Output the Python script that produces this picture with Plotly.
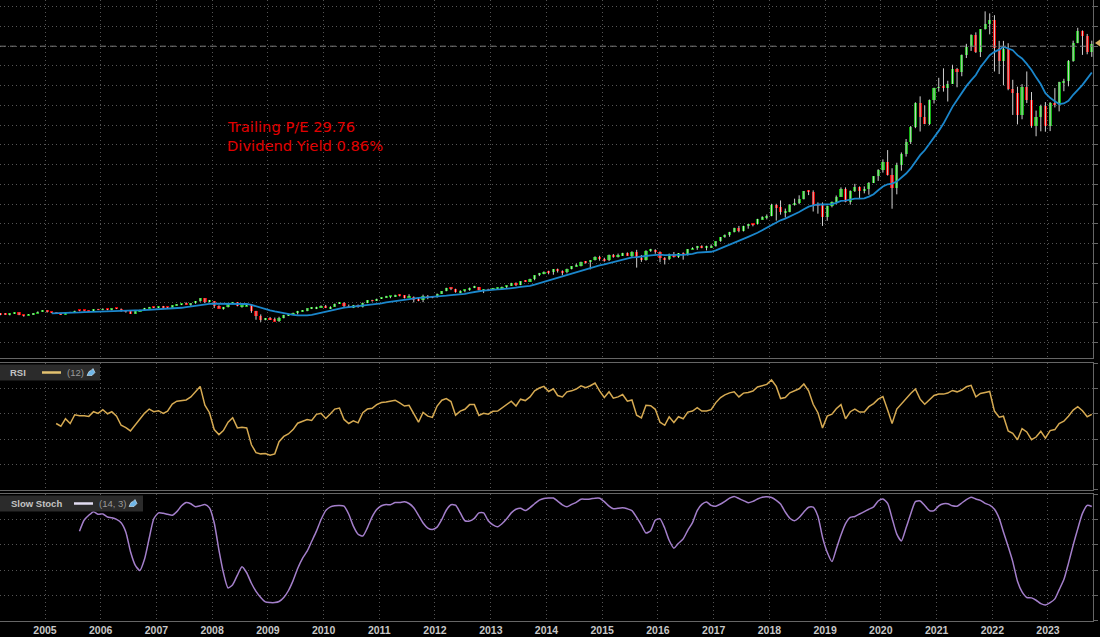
import pandas as pd
import plotly.graph_objects as go

# ---------------- DATA (monthly, Nasdaq-100 style chart) ----------------
# Candles: Mar 2004 .. Oct 2023 (Oct 2023 partial)
candle_start = "2004-03"
opens = [
    1468, 1438, 1401, 1466, 1517, 1382, 1380, 1407, 1485, 1567,
    1621, 1520, 1501, 1483, 1431, 1531, 1494, 1605, 1604, 1602, 1579, 1670,
    1645, 1680, 1664, 1704, 1702, 1579, 1575, 1488, 1569, 1654, 1738, 1789,
    1757, 1789, 1776, 1772, 1872, 1930, 1934, 1932, 1984, 2091, 2239, 2058,
    2085, 1841, 1741, 1782, 1951, 2032, 1837, 1845, 1874, 1569, 1330, 1145,
    1212, 1175, 1082, 1237, 1385, 1431, 1477, 1589, 1616, 1720, 1721, 1794,
    1860, 1741, 1817, 1957, 2014, 1857, 1764, 1883, 1774, 2013, 2133, 2100,
    2217, 2262, 2320, 2338, 2410, 2383, 2283, 2305, 2149, 2139, 2369, 2285,
    2278, 2468, 2592, 2755, 2718, 2540, 2616, 2632, 2772, 2800, 2660, 2677,
    2660, 2732, 2739, 2819, 2864, 2986, 2910, 3094, 3074, 3219, 3396, 3513,
    3592, 3545, 3717, 3596, 3564, 3737, 3850, 3888, 4083, 4050, 4159, 4345,
    4236, 4151, 4443, 4334, 4415, 4509, 4397, 4589, 4275, 4181, 4649, 4665,
    4594, 4280, 4201, 4484, 4341, 4524, 4418, 4731, 4771, 4876, 4801, 4810,
    4864, 5118, 5331, 5436, 5584, 5788, 5647, 5881, 5988, 5980, 6249, 6334,
    6397, 6950, 6855, 6581, 6606, 6968, 7040, 7272, 7660, 7628, 6967, 6949,
    6330, 6907, 7097, 7378, 7781, 7128, 7671, 7848, 7692, 7750, 8083, 8403,
    8733, 9151, 8462, 7813, 9000, 9555, 10157, 10905, 12111, 11418, 11052, 12268,
    12888, 12925, 12909, 13091, 13861, 13687, 14554, 14960, 15583, 14690, 15851, 16135,
    16320, 14931, 14237, 14839, 12855, 12643, 11504, 12947, 12272, 10971, 11406, 11951,
    10940, 12102, 12042, 13182, 13246, 14254, 15180, 15758, 15501, 14715,
]
highs = [
    1480, 1490, 1475, 1520, 1520, 1400, 1430, 1490, 1575, 1630,
    1625, 1550, 1530, 1500, 1540, 1550, 1610, 1625, 1625, 1610, 1680, 1700,
    1730, 1700, 1720, 1740, 1720, 1600, 1580, 1580, 1660, 1750, 1800, 1810,
    1820, 1850, 1800, 1880, 1940, 1960, 2030, 1990, 2100, 2240, 2240, 2150,
    2090, 1880, 1800, 1960, 2050, 2040, 1880, 1960, 1900, 1600, 1420, 1240,
    1290, 1260, 1300, 1400, 1450, 1510, 1600, 1640, 1730, 1790, 1810, 1880,
    1900, 1830, 1970, 2040, 2040, 1920, 1900, 1920, 2020, 2140, 2160, 2220,
    2280, 2360, 2340, 2420, 2430, 2390, 2440, 2330, 2290, 2420, 2400, 2350,
    2480, 2600, 2770, 2790, 2720, 2640, 2680, 2780, 2870, 2810, 2690, 2720,
    2760, 2780, 2830, 2880, 3020, 3040, 3100, 3150, 3230, 3400, 3520, 3600,
    3630, 3720, 3740, 3650, 3740, 3860, 3990, 4090, 4120, 4170, 4360, 4390,
    4290, 4450, 4480, 4500, 4540, 4560, 4620, 4690, 4430, 4670, 4740, 4720,
    4610, 4320, 4500, 4580, 4530, 4560, 4730, 4820, 4890, 4920, 4900, 4960,
    5120, 5340, 5470, 5600, 5810, 5900, 5910, 6000, 6010, 6260, 6390, 6480,
    7020, 7020, 7190, 6780, 7010, 7280, 7450, 7670, 7700, 7700, 7090, 7090,
    6930, 7140, 7440, 7850, 7850, 7700, 8030, 7900, 7900, 8120, 8420, 8770,
    9270, 9740, 8820, 9100, 9620, 10300, 10960, 12160, 12460, 12000, 12300, 12900,
    13400, 13880, 13250, 14060, 13900, 14580, 15120, 15600, 15700, 15860, 16764, 16660,
    16570, 15270, 15270, 15150, 13300, 12950, 13080, 13720, 12680, 11740, 12040, 12170,
    12170, 12880, 13200, 13350, 14300, 15280, 15932, 15800, 15620, 15280,
]
lows = [
    1380, 1395, 1370, 1450, 1380, 1305, 1375, 1390, 1480, 1560,
    1510, 1480, 1460, 1390, 1425, 1490, 1490, 1580, 1570, 1530, 1575, 1640,
    1630, 1630, 1630, 1690, 1560, 1510, 1450, 1460, 1560, 1640, 1730, 1740,
    1740, 1740, 1720, 1770, 1860, 1890, 1920, 1850, 1960, 2060, 1990, 2030,
    1740, 1720, 1660, 1770, 1940, 1830, 1760, 1830, 1500, 1150, 1040, 1120,
    1140, 1070, 1040, 1220, 1340, 1420, 1420, 1560, 1580, 1690, 1690, 1760,
    1740, 1700, 1810, 1950, 1740, 1750, 1740, 1760, 1770, 1990, 2070, 2100,
    2200, 2260, 2240, 2300, 2330, 2230, 2280, 2030, 2090, 2040, 2190, 2240,
    2270, 2460, 2590, 2650, 2520, 2490, 2540, 2620, 2750, 2640, 2500, 2600,
    2660, 2690, 2720, 2740, 2860, 2850, 2900, 3070, 3070, 3150, 3360, 3450,
    3450, 3430, 3540, 3400, 3500, 3700, 3840, 3850, 3990, 3700, 4150, 4140,
    4090, 4120, 4290, 4300, 4380, 4390, 4290, 3790, 4080, 4140, 4590, 4490,
    4060, 3950, 4170, 4300, 4280, 4190, 4400, 4720, 4690, 4770, 4660, 4790,
    4850, 5100, 5300, 5350, 5570, 5580, 5620, 5760, 5880, 5970, 6220, 6230,
    6390, 6170, 6470, 6320, 6590, 6930, 7000, 7240, 7460, 6630, 6520, 5900,
    6160, 6840, 6990, 7370, 7100, 6980, 7620, 7310, 7550, 7480, 8070, 8180,
    8600, 8450, 6770, 7500, 8700, 9410, 10050, 10850, 10680, 11050, 11000, 12100,
    12700, 12700, 12200, 13090, 12920, 13480, 14400, 14760, 14660, 14450, 15840, 15600,
    13720, 13590, 13020, 12770, 11520, 11040, 11300, 12120, 10870, 10440, 10690, 10670,
    10700, 11900, 11700, 12720, 12970, 14210, 15150, 14560, 14590, 14460,
]
closes = [
    1438, 1401, 1466, 1517, 1382, 1380, 1407, 1485, 1567, 1621,
    1520, 1501, 1483, 1431, 1531, 1494, 1605, 1604, 1602, 1579, 1670, 1645,
    1680, 1664, 1704, 1702, 1579, 1575, 1488, 1569, 1654, 1738, 1789, 1757,
    1789, 1776, 1772, 1872, 1930, 1934, 1932, 1984, 2091, 2239, 2058, 2085,
    1841, 1741, 1782, 1951, 2032, 1837, 1845, 1874, 1569, 1330, 1145, 1212,
    1175, 1082, 1237, 1385, 1431, 1477, 1589, 1616, 1720, 1721, 1794, 1860,
    1741, 1817, 1957, 2014, 1857, 1764, 1883, 1774, 2013, 2133, 2100, 2217,
    2262, 2320, 2338, 2410, 2383, 2283, 2305, 2149, 2139, 2369, 2285, 2278,
    2468, 2592, 2755, 2718, 2540, 2616, 2632, 2772, 2800, 2660, 2677, 2660,
    2732, 2739, 2819, 2864, 2986, 2910, 3094, 3074, 3219, 3396, 3513, 3592,
    3545, 3717, 3596, 3564, 3737, 3850, 3888, 4083, 4050, 4159, 4345, 4236,
    4151, 4443, 4334, 4415, 4509, 4397, 4589, 4275, 4181, 4649, 4665, 4594,
    4280, 4201, 4484, 4341, 4524, 4418, 4731, 4771, 4876, 4801, 4810, 4864,
    5118, 5331, 5436, 5584, 5788, 5647, 5881, 5988, 5980, 6249, 6334, 6397,
    6950, 6855, 6581, 6606, 6968, 7040, 7272, 7660, 7628, 6967, 6949, 6330,
    6907, 7097, 7378, 7781, 7128, 7671, 7848, 7692, 7750, 8083, 8403, 8733,
    9151, 8462, 7813, 9000, 9555, 10157, 10905, 12111, 11418, 11052, 12268, 12888,
    12925, 12909, 13091, 13861, 13687, 14554, 14960, 15583, 14690, 15851, 16135, 16320,
    14931, 14237, 14839, 12855, 12643, 11504, 12947, 12272, 10971, 11406, 11951, 10940,
    12102, 12042, 13182, 13246, 14254, 15180, 15758, 15501, 14715, 15100,
]

# 12-period moving average (blue line): Feb 2005 .. Oct 2023
ma_start = "2005-02"
ma12 = [
    1474, 1478, 1480, 1485, 1484, 1502, 1521, 1537, 1545, 1553, 1555,
    1569, 1582, 1601, 1623, 1627, 1634, 1624, 1621, 1626, 1639, 1649, 1658,
    1667, 1677, 1682, 1697, 1726, 1756, 1793, 1827, 1864, 1905, 1928, 1955,
    1960, 1957, 1957, 1964, 1973, 1964, 1957, 1948, 1905, 1829, 1753, 1680,
    1624, 1570, 1524, 1477, 1427, 1397, 1376, 1354, 1367, 1399, 1453, 1507,
    1554, 1616, 1676, 1728, 1764, 1788, 1812, 1825, 1850, 1884, 1909, 1939,
    1983, 2025, 2056, 2089, 2133, 2176, 2212, 2243, 2253, 2273, 2288, 2293,
    2311, 2333, 2368, 2394, 2407, 2435, 2462, 2514, 2569, 2593, 2626, 2658,
    2680, 2692, 2697, 2709, 2746, 2771, 2809, 2835, 2870, 2931, 3001, 3078,
    3146, 3227, 3292, 3351, 3413, 3491, 3558, 3642, 3711, 3775, 3844, 3898,
    3948, 4009, 4070, 4141, 4205, 4251, 4309, 4325, 4336, 4377, 4404, 4434,
    4444, 4424, 4437, 4430, 4432, 4433, 4445, 4487, 4545, 4557, 4569, 4592,
    4662, 4756, 4835, 4939, 5044, 5146, 5242, 5344, 5436, 5556, 5683, 5811,
    5964, 6091, 6186, 6271, 6370, 6486, 6602, 6741, 6878, 6938, 6989, 6984,
    6980, 7000, 7067, 7165, 7178, 7231, 7279, 7281, 7292, 7385, 7506, 7706,
    7893, 8007, 8043, 8145, 8347, 8554, 8809, 9177, 9483, 9730, 10052, 10398,
    10713, 11083, 11523, 11928, 12273, 12639, 12977, 13266, 13539, 13939, 14261, 14547,
    14714, 14825, 14971, 14887, 14800, 14546, 14378, 14102, 13792, 13422, 13073, 12625,
    12389, 12206, 12068, 12101, 12235, 12541, 12775, 13044, 13356, 13664,
]

# RSI (12): Mar 2005 .. Oct 2023
rsi_start = "2005-03"
rsi12 = [
    52.3, 50.1, 56.0, 52.3, 59.2, 58.4, 58.4, 57.9, 61.6, 60.3,
    63.2, 60.0, 61.6, 58.1, 50.9, 49.1, 46.4, 50.9, 55.2, 60.3, 63.7, 61.6,
    62.4, 60.3, 62.1, 67.7, 69.9, 70.4, 70.9, 73.3, 77.1, 81.6, 66.7, 60.8,
    47.5, 43.5, 46.7, 53.3, 56.8, 48.8, 49.3, 48.8, 35.5, 29.3, 28.3, 28.5,
    27.2, 28.3, 37.9, 42.1, 44.0, 47.5, 52.5, 53.9, 55.5, 54.7, 59.5, 60.3,
    56.3, 60.0, 63.7, 64.5, 55.5, 52.3, 54.4, 52.8, 60.8, 63.7, 64.3, 67.2,
    68.8, 69.3, 69.9, 70.7, 68.5, 66.1, 66.7, 60.0, 53.3, 61.1, 58.1, 57.1,
    66.1, 70.7, 72.0, 69.6, 58.9, 62.1, 63.5, 67.2, 67.2, 58.7, 60.3, 59.7,
    61.9, 62.1, 64.5, 67.5, 69.9, 66.1, 71.5, 70.4, 73.3, 78.1, 80.3, 81.6,
    77.6, 79.7, 74.4, 73.3, 77.3, 78.1, 79.5, 82.1, 80.5, 82.1, 84.3, 78.1,
    72.8, 77.3, 72.3, 73.3, 75.2, 69.9, 70.9, 58.9, 56.8, 66.7, 66.4, 63.5,
    53.3, 50.9, 57.6, 53.1, 57.6, 56.0, 61.3, 62.1, 64.8, 62.1, 62.1, 63.2,
    68.8, 72.8, 74.9, 76.5, 77.3, 73.3, 76.3, 76.8, 77.9, 81.1, 81.9, 83.2,
    86.7, 81.6, 72.0, 72.8, 76.5, 77.9, 79.7, 83.5, 78.1, 67.5, 60.8, 48.8,
    58.1, 59.7, 64.0, 67.2, 56.0, 61.6, 63.7, 61.3, 61.3, 65.6, 68.0, 71.5,
    73.6, 62.9, 52.3, 63.7, 68.0, 72.3, 76.0, 79.5, 71.5, 67.5, 71.2, 74.4,
    75.5, 75.5, 76.3, 78.4, 77.3, 78.7, 81.3, 82.4, 73.3, 76.0, 76.8, 77.6,
    62.1, 57.3, 58.1, 46.4, 44.5, 39.5, 48.3, 45.6, 39.5, 41.6, 46.1, 40.8,
    46.7, 47.5, 52.3, 54.1, 58.1, 62.9, 65.6, 62.4, 57.6, 59.5,
]

# Slow Stochastic (14, 3): Aug 2005 .. Oct 2023
stoch_start = "2005-08"
slow_stoch = [
    70.7, 79.5, 83.2, 86.1, 84.0,
    84.3, 81.9, 81.3, 80.0, 77.3, 69.9, 54.7, 44.0, 39.7, 48.5, 65.1, 80.5,
    85.1, 84.8, 84.0, 83.2, 86.1, 90.7, 93.3, 92.3, 89.9, 90.7, 91.7, 89.1,
    77.3, 55.7, 38.1, 25.9, 28.5, 36.0, 42.7, 37.9, 29.6, 23.2, 18.4, 14.9,
    14.4, 14.4, 15.2, 18.4, 23.7, 31.7, 41.3, 49.1, 54.9, 62.7, 70.7, 79.7,
    86.9, 89.9, 90.7, 90.9, 90.4, 84.0, 74.7, 68.3, 66.9, 73.3, 81.9, 87.7,
    90.7, 91.7, 91.5, 93.3, 93.3, 93.9, 92.5, 89.1, 83.2, 77.1, 73.1, 72.0,
    73.9, 80.0, 87.2, 91.5, 91.2, 85.1, 78.9, 78.7, 80.8, 85.1, 85.1, 78.9,
    75.7, 74.1, 76.5, 80.5, 85.1, 88.0, 88.8, 86.9, 89.3, 92.3, 95.2, 96.5,
    96.8, 96.8, 94.4, 91.5, 89.9, 91.8, 93.4, 95.9, 95.9, 96.1, 96.7, 96.7,
    94.0, 90.4, 88.3, 88.8, 89.1, 88.3, 86.9, 81.5, 75.5, 69.2, 71.1, 79.3,
    80.4, 73.0, 63.5, 57.3, 61.1, 64.6, 71.4, 77.4, 86.9, 91.8, 93.7, 91.0,
    90.4, 92.1, 94.2, 96.7, 98.0, 96.4, 94.8, 93.1, 94.2, 96.1, 97.5, 97.8,
    97.2, 95.0, 92.1, 85.8, 80.9, 79.0, 81.5, 85.8, 89.6, 89.6, 82.5, 66.0,
    54.0, 46.7, 56.5, 67.6, 76.6, 81.5, 82.3, 84.2, 86.1, 88.0, 89.9, 94.5,
    96.1, 92.6, 80.9, 68.4, 63.0, 73.3, 84.2, 94.0, 94.5, 91.0, 86.9, 86.9,
    90.7, 92.3, 92.3, 90.7, 90.4, 92.9, 95.6, 97.5, 96.1, 95.0, 92.6, 91.2,
    88.0, 80.9, 70.0, 58.6, 46.7, 31.2, 22.8, 18.4, 18.1, 16.2, 13.5, 12.4,
    14.3, 17.3, 24.4, 32.5, 45.3, 59.7, 72.5, 84.7, 91.0, 90.2,
]

ref_line_level = 15000
note_lines = ["Trailing P/E 29.76", "Dividend Yield 0.86%"]
rsi_label, rsi_param = "RSI", "(12)"
stoch_label, stoch_param = "Slow Stoch", "(14, 3)"


def month_mid(start, n):
    return pd.date_range(start + "-01", periods=n, freq="MS") + pd.Timedelta(days=14)


# ---------------- STYLE ----------------
W, H = 1100, 637
BG = "#000000"
GRID = "#555555"
FRAME = "#666666"
UP, DOWN, WICK = "#12b312", "#e00000", "#d0d0d0"
MA_COL, RSI_COL, STO_COL = "#1b87cc", "#d6aa52", "#a47fcb"
GRID_DASH = "1px,3px"


def px(x):
    return x / W


def py(y):
    return 1 - y / H


xdom = [0, px(1093)]
xrange_ = ["2004-03-12", "2023-10-23"]

fig = go.Figure()

cd = month_mid(candle_start, len(closes))
wx, wy = [], []
for d, lo, hi in zip(cd, lows, highs):
    wx += [d, d, None]
    wy += [lo, hi, None]
fig.add_trace(go.Scatter(x=wx, y=wy, mode="lines", line=dict(color=WICK, width=1),
                         hoverinfo="skip", xaxis="x", yaxis="y", showlegend=False))

body_base = [min(o, c) for o, c in zip(opens, closes)]
body_h = [max(abs(c - o), 45) for o, c in zip(opens, closes)]
body_col = [UP if c >= o else DOWN for o, c in zip(opens, closes)]
fig.add_trace(go.Bar(x=cd, y=body_h, base=body_base, marker=dict(color=body_col, line=dict(width=0)),
                     width=21 * 86400000, xaxis="x", yaxis="y", showlegend=False))

fig.add_trace(go.Scatter(x=month_mid(ma_start, len(ma12)), y=ma12, mode="lines",
                         line=dict(color=MA_COL, width=1.8), xaxis="x", yaxis="y", showlegend=False))

fig.add_trace(go.Scatter(x=month_mid(rsi_start, len(rsi12)), y=rsi12, mode="lines",
                         line=dict(color=RSI_COL, width=1.5), xaxis="x2", yaxis="y2", showlegend=False))

fig.add_trace(go.Scatter(x=month_mid(stoch_start, len(slow_stoch)), y=slow_stoch, mode="lines",
                         line=dict(color=STO_COL, width=1.5, shape="spline", smoothing=0.6),
                         xaxis="x3", yaxis="y3", showlegend=False))

xcommon = dict(type="date", range=xrange_, domain=xdom, showgrid=True, gridcolor=GRID, griddash=GRID_DASH,
               gridwidth=1, dtick="M12", tick0="2005-01-01", zeroline=False, linecolor=FRAME,
               linewidth=1, ticks="")
ycommon = dict(side="right", showgrid=True, gridcolor=GRID, griddash=GRID_DASH, gridwidth=1, zeroline=False,
               showticklabels=False, ticks="outside", ticklen=4, tickcolor=FRAME, showline=True,
               linecolor=FRAME, linewidth=1)

fig.update_layout(
    width=W, height=H,
    margin=dict(l=0, r=0, t=0, b=0),
    paper_bgcolor=BG, plot_bgcolor=BG,
    barmode="overlay", bargap=0,
    showlegend=False,
    xaxis=dict(xcommon, anchor="y", showticklabels=False, showline=True, mirror=False),
    yaxis=dict(ycommon, domain=[py(358), 1], range=[-787, 17339], dtick=1000, tick0=0, anchor="x"),
    xaxis2=dict(xcommon, anchor="y2", matches="x", showticklabels=False, showline=True, mirror=True),
    yaxis2=dict(ycommon, domain=[py(489.7), py(363.1)], range=[0, 100], dtick=20, tick0=0, anchor="x2"),
    xaxis3=dict(xcommon, anchor="y3", matches="x", showticklabels=True, showline=True, mirror=True,
                tickformat="%Y", tickfont=dict(family="Liberation Sans, Arial", size=10.5, color="#c8c8c8",
                                               weight="bold")),
    yaxis3=dict(ycommon, domain=[py(620.8), py(494)], range=[0, 100], dtick=20, tick0=0, anchor="x3"),
)

shapes = []
# dashed reference line in price panel
shapes.append(dict(type="line", xref="x", yref="y", x0=xrange_[0], x1=xrange_[1],
                   y0=ref_line_level, y1=ref_line_level, line=dict(color="#7a7a7a", width=1, dash="6px,4px")))
# last price marker at right edge
shapes.append(dict(type="path", xref="paper", yref="paper",
                   path=f"M {px(1095)} {py(43)} L {px(1100)} {py(39.5)} L {px(1100)} {py(46.5)} Z",
                   fillcolor="#d8b060", line=dict(width=0)))
# legend boxes
shapes.append(dict(type="rect", xref="paper", yref="paper", x0=0, x1=px(100), y0=py(380.5), y1=py(364.5),
                   fillcolor="#2b2b2b", line=dict(width=0), layer="above"))
shapes.append(dict(type="line", xref="paper", yref="paper", x0=px(42), x1=px(61), y0=py(372.5), y1=py(372.5),
                   line=dict(color="#e3c270", width=2.5), layer="above"))
shapes.append(dict(type="rect", xref="paper", yref="paper", x0=0, x1=px(143), y0=py(511.5), y1=py(495.5),
                   fillcolor="#2b2b2b", line=dict(width=0), layer="above"))
shapes.append(dict(type="line", xref="paper", yref="paper", x0=px(74), x1=px(93), y0=py(503.5), y1=py(503.5),
                   line=dict(color="#e2dcf2", width=2.5), layer="above"))
# small tool icons
for (ix, iy) in [(91, 372.5), (133, 503.5)]:
    shapes.append(dict(type="path", xref="paper", yref="paper",
                       path=(f"M {px(ix-4)} {py(iy+3)} L {px(ix+1)} {py(iy+3)} L {px(ix+4)} {py(iy)} "
                             f"L {px(ix+2)} {py(iy-4)} L {px(ix)} {py(iy-2)} L {px(ix-2)} {py(iy-1)} Z"),
                       fillcolor="#6fb6e8", line=dict(color="#d8ecfa", width=0.6), layer="above"))
fig.update_layout(shapes=shapes)

ann = []
for i, t in enumerate(note_lines):
    ann.append(dict(text=t, xref="paper", yref="paper", x=px(225), y=py(127 + 18 * i), xanchor="left",
                    yanchor="middle", showarrow=False,
                    font=dict(family="DejaVu Sans", size=14.7, color="#e10000")))
lab_font = dict(family="Liberation Sans, Arial", size=9.5, color="#c4c4c4", weight="bold")
par_font = dict(family="Liberation Sans, Arial", size=9.5, color="#9a9a9a")
ann.append(dict(text=rsi_label, xref="paper", yref="paper", x=px(8), y=py(372.5), xanchor="left",
                yanchor="middle", showarrow=False, font=lab_font))
ann.append(dict(text=rsi_param, xref="paper", yref="paper", x=px(65), y=py(372.5), xanchor="left",
                yanchor="middle", showarrow=False, font=par_font))
ann.append(dict(text=stoch_label, xref="paper", yref="paper", x=px(9), y=py(503.5), xanchor="left",
                yanchor="middle", showarrow=False, font=lab_font))
ann.append(dict(text=stoch_param, xref="paper", yref="paper", x=px(97), y=py(503.5), xanchor="left",
                yanchor="middle", showarrow=False, font=par_font))
fig.update_layout(annotations=ann)

fig.write_html("out.html")
